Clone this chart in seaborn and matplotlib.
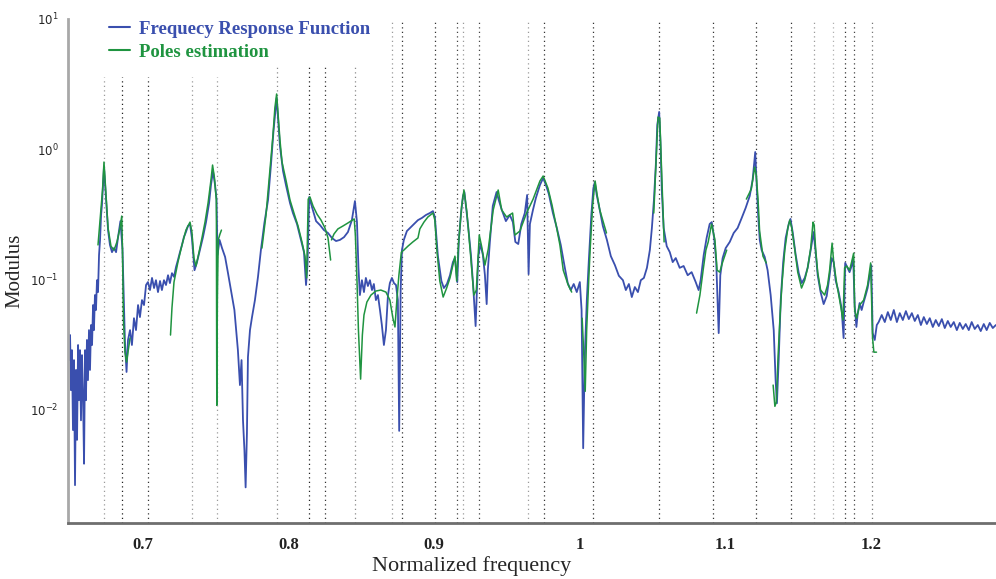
import numpy as np
import pandas as pd
import matplotlib
matplotlib.use('Agg')
import matplotlib.pyplot as plt
from matplotlib.lines import Line2D
import seaborn as sns

# ── Data ─────────────────────────────────────────────────────
# Frequency Response Function (blue)
frf_freq = [
    0.6485, 0.6492, 0.6499, 0.6505, 0.6512, 0.6519, 0.6526, 0.6533, 0.6540, 0.6547,
    0.6554, 0.6560, 0.6567, 0.6574, 0.6581, 0.6588, 0.6595, 0.6602, 0.6608, 0.6615,
    0.6622, 0.6629, 0.6636, 0.6643, 0.6650, 0.6657, 0.6663, 0.6670, 0.6677, 0.6684,
    0.6691, 0.6698, 0.6705, 0.6712, 0.6718, 0.6725, 0.6732, 0.6746, 0.6760, 0.6773,
    0.6787, 0.6801, 0.6815, 0.6828, 0.6845, 0.6859, 0.6870, 0.6876, 0.6887, 0.6897,
    0.6911, 0.6924, 0.6938, 0.6952, 0.6966, 0.6979, 0.6993, 0.7007, 0.7021, 0.7034,
    0.7048, 0.7062, 0.7076, 0.7089, 0.7103, 0.7117, 0.7130, 0.7144, 0.7158, 0.7172,
    0.7185, 0.7199, 0.7213, 0.7227, 0.7240, 0.7254, 0.7268, 0.7281, 0.7295, 0.7309,
    0.7323, 0.7336, 0.7354, 0.7371, 0.7391, 0.7412, 0.7433, 0.7454, 0.7467, 0.7481,
    0.7495, 0.7505, 0.7512, 0.7526, 0.7543, 0.7564, 0.7584, 0.7604, 0.7628, 0.7652,
    0.7666, 0.7677, 0.7687, 0.7697, 0.7705, 0.7714, 0.7721, 0.7735, 0.7749, 0.7769,
    0.7790, 0.7810, 0.7834, 0.7859, 0.7879, 0.7896, 0.7910, 0.7918, 0.7927, 0.7941,
    0.7962, 0.7982, 0.8010, 0.8030, 0.8058, 0.8085, 0.8106, 0.8120, 0.8130, 0.8142,
    0.8161, 0.8189, 0.8216, 0.8243, 0.8271, 0.8298, 0.8326, 0.8353, 0.8381, 0.8408,
    0.8435, 0.8456, 0.8470, 0.8480, 0.8490, 0.8504, 0.8518, 0.8531, 0.8545, 0.8559,
    0.8573, 0.8586, 0.8600, 0.8614, 0.8628, 0.8641, 0.8655, 0.8669, 0.8683, 0.8696,
    0.8710, 0.8724, 0.8738, 0.8751, 0.8760, 0.8770, 0.8779, 0.8792, 0.8813, 0.8834,
    0.8861, 0.8889, 0.8916, 0.8944, 0.8971, 0.8992, 0.9005, 0.9026, 0.9050, 0.9067,
    0.9088, 0.9109, 0.9129, 0.9143, 0.9159, 0.9170, 0.9184, 0.9198, 0.9208, 0.9218,
    0.9235, 0.9253, 0.9268, 0.9285, 0.9294, 0.9304, 0.9318, 0.9335, 0.9349, 0.9361,
    0.9369, 0.9383, 0.9403, 0.9429, 0.9444, 0.9465, 0.9493, 0.9520, 0.9541, 0.9558,
    0.9578, 0.9599, 0.9623, 0.9639, 0.9649, 0.9658, 0.9679, 0.9699, 0.9727, 0.9749,
    0.9768, 0.9788, 0.9816, 0.9843, 0.9870, 0.9898, 0.9918, 0.9939, 0.9959, 0.9980,
    1.0001, 1.0013, 1.0024, 1.0035, 1.0049, 1.0063, 1.0080, 1.0094, 1.0104, 1.0117,
    1.0138, 1.0159, 1.0187, 1.0214, 1.0242, 1.0269, 1.0297, 1.0317, 1.0338, 1.0358,
    1.0379, 1.0400, 1.0420, 1.0441, 1.0462, 1.0482, 1.0496, 1.0510, 1.0523, 1.0533,
    1.0546, 1.0555, 1.0564, 1.0577, 1.0598, 1.0619, 1.0639, 1.0660, 1.0687, 1.0714,
    1.0742, 1.0769, 1.0797, 1.0817, 1.0831, 1.0852, 1.0872, 1.0893, 1.0907, 1.0924,
    1.0938, 1.0955, 1.0966, 1.0982, 1.1003, 1.1031, 1.1058, 1.1085, 1.1113, 1.1140,
    1.1168, 1.1188, 1.1206, 1.1216, 1.1226, 1.1237, 1.1250, 1.1271, 1.1291, 1.1312,
    1.1333, 1.1346, 1.1355, 1.1367, 1.1381, 1.1398, 1.1415, 1.1436, 1.1448, 1.1463,
    1.1484, 1.1505, 1.1525, 1.1546, 1.1566, 1.1587, 1.1607, 1.1621, 1.1635, 1.1655,
    1.1676, 1.1697, 1.1717, 1.1731, 1.1745, 1.1758, 1.1779, 1.1799, 1.1813, 1.1824,
    1.1840, 1.1854, 1.1868, 1.1879, 1.1889, 1.1901, 1.1909, 1.1923, 1.1937, 1.1951,
    1.1965, 1.1978, 1.1992, 1.2003, 1.2013, 1.2027, 1.2041, 1.2054, 1.2075, 1.2096,
    1.2117, 1.2137, 1.2158, 1.2179, 1.2199, 1.2220, 1.2241, 1.2261, 1.2282, 1.2302,
    1.2323, 1.2344, 1.2364, 1.2385, 1.2405, 1.2426, 1.2446, 1.2467, 1.2488, 1.2508,
    1.2529, 1.2549, 1.2570, 1.2591, 1.2611, 1.2632, 1.2652, 1.2673, 1.2693, 1.2714,
    1.2735, 1.2755, 1.2776, 1.2796, 1.2817, 1.2838, 1.2859,
]
frf_mod = [
    0.0467, 0.0238, 0.0371, 0.0140, 0.0284, 0.0069, 0.0238, 0.0026, 0.0200, 0.0058,
    0.0311, 0.0117, 0.0284, 0.0082, 0.0260, 0.0128, 0.0038, 0.0284, 0.0117, 0.0340,
    0.0167, 0.0405, 0.0200, 0.0443, 0.0311, 0.0631, 0.0405, 0.0753, 0.0578, 0.0980,
    0.0794, 0.153, 0.200, 0.311, 0.371, 0.529, 0.727, 0.412, 0.238, 0.183,
    0.161, 0.173, 0.161, 0.207, 0.279, 0.170, 0.0578, 0.0328, 0.0193, 0.0340,
    0.0405, 0.0311, 0.0500, 0.0405, 0.0631, 0.0510, 0.0689, 0.0631, 0.0900, 0.0948,
    0.0823, 0.102, 0.0853, 0.0980, 0.0794, 0.0966, 0.0823, 0.0980, 0.0900, 0.107,
    0.0931, 0.111, 0.104, 0.124, 0.140, 0.161, 0.183, 0.210, 0.230, 0.256,
    0.265, 0.207, 0.117, 0.135, 0.167, 0.210, 0.274, 0.384, 0.529, 0.677,
    0.529, 0.412, 0.153, 0.200, 0.173, 0.148, 0.111, 0.0823, 0.0578, 0.0284,
    0.0153, 0.0238, 0.0082, 0.0048, 0.0025, 0.0065, 0.0251, 0.0405, 0.0510, 0.0689,
    0.104, 0.167, 0.270, 0.405, 0.753, 1.35, 2.00, 2.47, 1.76, 1.05,
    0.677, 0.529, 0.384, 0.322, 0.265, 0.200, 0.161, 0.0900, 0.128, 0.428,
    0.358, 0.279, 0.260, 0.238, 0.226, 0.207, 0.196, 0.200, 0.210, 0.230,
    0.284, 0.398, 0.274, 0.124, 0.0753, 0.0980, 0.0794, 0.102, 0.0884, 0.0980,
    0.0823, 0.0916, 0.0689, 0.0753, 0.0578, 0.0443, 0.0311, 0.0405, 0.0753, 0.0931,
    0.102, 0.0931, 0.0900, 0.0689, 0.0068, 0.0823, 0.167, 0.200, 0.234, 0.247,
    0.265, 0.284, 0.295, 0.311, 0.322, 0.333, 0.300, 0.150, 0.0966, 0.0853,
    0.0916, 0.107, 0.135, 0.145, 0.0948, 0.200, 0.311, 0.435, 0.467, 0.371,
    0.247, 0.153, 0.0900, 0.0435, 0.0823, 0.150, 0.186, 0.153, 0.107, 0.0642,
    0.117, 0.193, 0.365, 0.467, 0.405, 0.340, 0.279, 0.311, 0.274, 0.193,
    0.186, 0.265, 0.322, 0.443, 0.109, 0.265, 0.340, 0.420, 0.529, 0.598,
    0.529, 0.451, 0.322, 0.247, 0.183, 0.122, 0.0931, 0.0823, 0.0916, 0.0794,
    0.0948, 0.0578, 0.0050, 0.0256, 0.0689, 0.140, 0.311, 0.500, 0.557, 0.443,
    0.340, 0.256, 0.200, 0.150, 0.128, 0.106, 0.0980, 0.0823, 0.0916, 0.0727,
    0.0868, 0.0794, 0.0980, 0.102, 0.122, 0.167, 0.247, 0.405, 0.753, 1.53,
    1.93, 1.13, 0.484, 0.247, 0.179, 0.161, 0.135, 0.145, 0.122, 0.126,
    0.107, 0.113, 0.0948, 0.0823, 0.0980, 0.153, 0.207, 0.265, 0.274, 0.207,
    0.135, 0.0384, 0.107, 0.145, 0.173, 0.193, 0.226, 0.247, 0.295, 0.352,
    0.435, 0.578, 0.948, 0.529, 0.311, 0.200, 0.167, 0.148, 0.117, 0.0753,
    0.0405, 0.0167, 0.0111, 0.0238, 0.0689, 0.135, 0.207, 0.265, 0.290, 0.230,
    0.153, 0.111, 0.0931, 0.102, 0.122, 0.167, 0.230, 0.161, 0.107, 0.0794,
    0.0642, 0.0740, 0.107, 0.145, 0.135, 0.0980, 0.0794, 0.0598, 0.0352, 0.133,
    0.122, 0.113, 0.126, 0.145, 0.0631, 0.0428, 0.0529, 0.0654, 0.0578, 0.0665,
    0.0753, 0.0853, 0.106, 0.128, 0.0384, 0.0340, 0.0443, 0.0467, 0.0529, 0.0467,
    0.0557, 0.0484, 0.0578, 0.0467, 0.0547, 0.0484, 0.0567, 0.0492, 0.0547, 0.0476,
    0.0529, 0.0443, 0.0510, 0.0451, 0.0500, 0.0428, 0.0484, 0.0435, 0.0492, 0.0420,
    0.0476, 0.0428, 0.0467, 0.0405, 0.0460, 0.0413, 0.0451, 0.0405, 0.0467, 0.0413,
    0.0443, 0.0398, 0.0451, 0.0405, 0.0460, 0.0420, 0.0443,
]

# Poles estimation (green), NaN separates the fitted pieces
poles_freq = [
    0.6691, 0.6708, 0.6722, 0.6732, 0.6742, 0.6760, 0.6780, 0.6801, 0.6821, 0.6842,
    0.6854, 0.6859, 0.6866, 0.6876, 0.6887, 0.6897, 0.6911, np.nan,
    0.7189, 0.7199, 0.7213, 0.7240, 0.7268, 0.7295, 0.7323, 0.7336, 0.7350, 0.7364,
    0.7385, 0.7405, 0.7426, 0.7447, 0.7467, 0.7478, 0.7491, 0.7504, 0.7507, 0.7511,
    0.7517, 0.7529, 0.7539, np.nan,
    0.7817, 0.7845, 0.7872, 0.7893, 0.7906, 0.7918, 0.7927, 0.7941, 0.7955, 0.7982,
    0.8010, 0.8037, 0.8065, 0.8092, 0.8113, 0.8124, 0.8135, 0.8147, 0.8168, 0.8195,
    0.8223, 0.8250, 0.8271, 0.8289, np.nan,
    0.8295, 0.8312, 0.8339, 0.8374, 0.8408, 0.8451, 0.8459, 0.8470, 0.8480, 0.8495,
    0.8507, 0.8518, 0.8538, 0.8566, 0.8600, 0.8634, 0.8669, 0.8696, 0.8717, 0.8731,
    0.8744, 0.8758, 0.8775, 0.8792, 0.8820, 0.8854, 0.8889, 0.8902, 0.8930, 0.8957,
    0.8992, 0.9005, 0.9019, 0.9039, 0.9062, 0.9086, 0.9109, 0.9129, 0.9143, 0.9155,
    0.9167, 0.9189, 0.9205, 0.9225, 0.9251, 0.9273, 0.9290, 0.9310, 0.9326, 0.9349,
    0.9372, 0.9406, 0.9440, 0.9464, 0.9498, 0.9539, 0.9555, 0.9589, 0.9635, 0.9680,
    0.9727, 0.9749, 0.9782, 0.9810, 0.9842, 0.9864, 0.9887, 0.9921, 0.9945, np.nan,
    1.0017, 1.0027, 1.0038, 1.0048, 1.0062, 1.0072, 1.0089, 1.0106, 1.0120, 1.0138,
    1.0162, 1.0184, np.nan,
    1.0509, 1.0522, 1.0538, 1.0550, 1.0560, 1.0573, 1.0580, np.nan,
    1.0803, 1.0826, 1.0848, 1.0867, 1.0883, 1.0906, 1.0929, 1.0944, 1.0962, 1.0982,
    1.1010, np.nan,
    1.1145, 1.1179, 1.1202, 1.1213, 1.1225, 1.1236, 1.1259, 1.1282, np.nan,
    1.1329, 1.1341, 1.1351, 1.1363, 1.1375, 1.1389, 1.1409, 1.1430, 1.1443, 1.1457,
    1.1478, 1.1498, 1.1524, 1.1546, 1.1566, 1.1587, 1.1603, 1.1611, 1.1621, 1.1635,
    1.1655, 1.1683, 1.1703, 1.1717, 1.1734, 1.1745, 1.1765, 1.1786, 1.1809, 1.1820,
    1.1834, 1.1854, 1.1868, 1.1882, 1.1889, 1.1902, 1.1923, 1.1951, 1.1978, 1.1999,
    1.2012, 1.2021, 1.2039,
]
poles_mod = [
    0.183, 0.311, 0.484, 0.794, 0.529, 0.247, 0.179, 0.167, 0.193, 0.247,
    0.305, 0.167, 0.0484, 0.0274, 0.0230, 0.0274, 0.0352, np.nan,
    0.0371, 0.0600, 0.0948, 0.135, 0.183, 0.238, 0.274, 0.230, 0.145, 0.126,
    0.161, 0.207, 0.274, 0.384, 0.578, 0.753, 0.598, 0.405, 0.0107, 0.0689,
    0.200, 0.222, 0.238, np.nan,
    0.173, 0.311, 0.689, 1.28, 2.07, 2.65, 1.93, 1.17, 0.794, 0.578,
    0.405, 0.322, 0.256, 0.193, 0.150, 0.102, 0.412, 0.428, 0.365, 0.316,
    0.284, 0.247, 0.207, 0.140, np.nan,
    0.200, 0.222, 0.243, 0.256, 0.270, 0.290, 0.218, 0.0980, 0.0405, 0.0170,
    0.0371, 0.0529, 0.0665, 0.0753, 0.0809, 0.0823, 0.0794, 0.0689, 0.0500, 0.0428,
    0.0689, 0.107, 0.161, 0.167, 0.179, 0.193, 0.207, 0.243, 0.274, 0.300,
    0.322, 0.284, 0.167, 0.0966, 0.0727, 0.0853, 0.102, 0.128, 0.150, 0.0966,
    0.183, 0.365, 0.484, 0.328, 0.150, 0.0753, 0.0823, 0.218, 0.179, 0.128,
    0.170, 0.340, 0.484, 0.340, 0.300, 0.322, 0.218, 0.234, 0.322, 0.412,
    0.568, 0.620, 0.500, 0.371, 0.247, 0.183, 0.117, 0.0900, 0.0794, np.nan,
    0.0500, 0.0284, 0.0137, 0.0405, 0.0980, 0.170, 0.371, 0.568, 0.443, 0.340,
    0.274, 0.226, np.nan,
    0.322, 0.689, 1.76, 1.73, 0.823, 0.322, 0.193, np.nan,
    0.0547, 0.0753, 0.117, 0.167, 0.193, 0.265, 0.200, 0.117, 0.113, 0.135,
    0.167, np.nan,
    0.412, 0.492, 0.727, 0.631, 0.412, 0.234, 0.150, 0.133, np.nan,
    0.0153, 0.0105, 0.0113, 0.0256, 0.0484, 0.0900, 0.167, 0.247, 0.284, 0.247,
    0.167, 0.113, 0.0853, 0.0980, 0.122, 0.173, 0.274, 0.260, 0.170, 0.113,
    0.0823, 0.0753, 0.0900, 0.117, 0.189, 0.135, 0.0931, 0.0689, 0.0484, 0.122,
    0.126, 0.117, 0.135, 0.158, 0.0578, 0.0500, 0.0631, 0.0689, 0.0900, 0.133,
    0.0352, 0.0274, 0.0274,
]

# Estimated pole frequencies (dotted markers)
pole_freqs = [0.6732, 0.6854, 0.7036, 0.7334, 0.7506,
              0.7918, 0.8142, 0.8250, 0.8456,
              0.8714, 0.8781, 0.9005, 0.9155, 0.9196, 0.9310, 0.9642, 0.9754,
              1.0093, 1.0546, 1.0915, 1.1208, 1.1449, 1.1611, 1.1741, 1.1826,
              1.1883, 1.2005]

x_ticks = [0.7, 0.8, 0.9, 1.0, 1.1, 1.2]
x_tick_labels = ['0.7', '0.8', '0.9', '1', '1.1', '1.2']

# ── Styling ──────────────────────────────────────────────────
sns.set_style('white')
plt.rcParams['font.family'] = ['Liberation Serif', 'DejaVu Serif']

blue = '#3a4fae'
green = '#1f9440'

# top of each dotted line (axes fraction) and its shade
pole_tops = [0.885] * 5 + [0.905] * 4 + [1.0] * 18
pole_shades = ['#9a9a9a', '#222222', '#333333', '#9a9a9a', '#9a9a9a',
               '#8a8a8a', '#222222', '#333333', '#8a8a8a',
               '#9a9a9a', '#333333', '#333333', '#444444', '#9a9a9a', '#444444',
               '#9a9a9a', '#333333', '#333333', '#333333', '#333333', '#333333',
               '#333333', '#9a9a9a', '#b0b0b0', '#333333', '#444444', '#777777']

fig = plt.figure(figsize=(9.96, 5.79), dpi=100)
ax = fig.add_axes([0.0683, 0.0967, 0.9317, 0.8705])
ax.set_yscale('log')

for f, top, c in zip(pole_freqs, pole_tops, pole_shades):
    ax.axvline(f, ymin=0, ymax=top, color=c, lw=0.9,
               linestyle=(0, (1, 2.6)), zorder=1)

frf_df = pd.DataFrame({'freq': frf_freq, 'mod': frf_mod})
sns.lineplot(data=frf_df, x='freq', y='mod', sort=False, estimator=None,
             color=blue, lw=1.3, ax=ax, zorder=2)
ax.plot(poles_freq, poles_mod, color=green, lw=1.1, zorder=3)

ax.set_xlim(0.6485, 1.286)
ax.set_ylim(1.33e-3, 10)

ax.set_xticks(x_ticks)
ax.set_xticklabels(x_tick_labels, fontsize=12, fontweight='bold')
ax.tick_params(axis='x', direction='in', length=3, width=1, colors='#222222',
               pad=10)
ax.tick_params(axis='y', which='major', direction='in', length=10, width=1,
               color='#222222', pad=7)
ax.tick_params(axis='y', which='minor', direction='in', length=5, width=1,
               color='#444444')
for lab in ax.get_yticklabels():
    lab.set_family('DejaVu Sans')
    lab.set_fontsize(8.5)

for s in ['top', 'right']:
    ax.spines[s].set_visible(False)
ax.spines['left'].set_color('#a8a8a8')
ax.spines['left'].set_linewidth(2)
ax.spines['bottom'].set_color('#6e6e6e')
ax.spines['bottom'].set_linewidth(2)

ax.set_xlabel('Normalized frequency', fontsize=16, x=0.435, labelpad=2)
ax.set_ylabel('Modulus', fontsize=15)
ax.yaxis.set_label_coords(-0.047, 0.5)

handles = [Line2D([], [], color=blue, lw=1.5),
           Line2D([], [], color=green, lw=1.5)]
leg = ax.legend(handles, ['Frequecy Response Function', 'Poles estimation'],
                loc='upper left', bbox_to_anchor=(0.026, 1.03), frameon=False,
                handlelength=1.1, handletextpad=0.5, labelspacing=0.3,
                prop={'family': 'Liberation Serif', 'weight': 'bold', 'size': 13.5})
for txt, c in zip(leg.get_texts(), [blue, green]):
    txt.set_color(c)

fig.savefig('out.png', dpi=100)
